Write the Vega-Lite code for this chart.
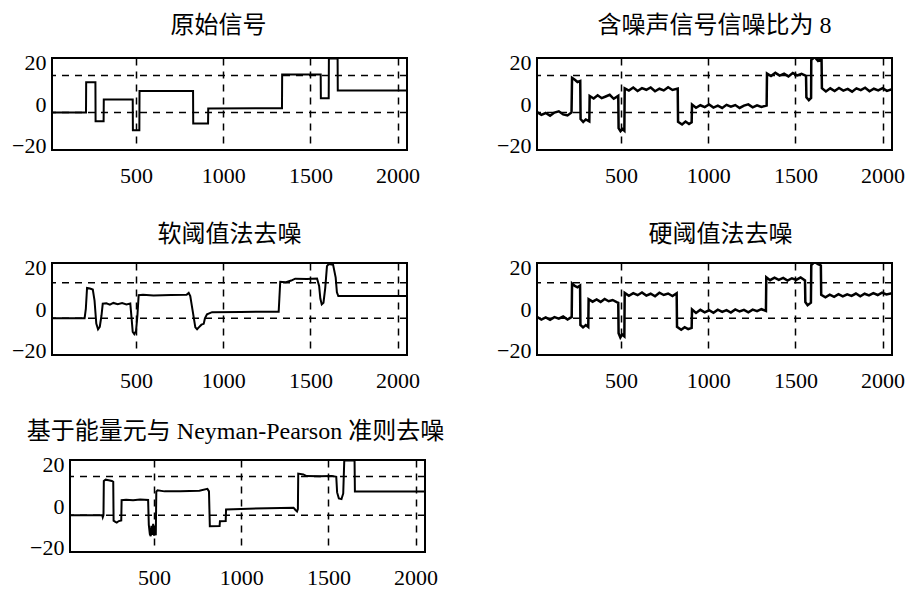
{
  "$schema": "https://vega.github.io/schema/vega-lite/v6.json",
  "background": "white",
  "padding": {"left": 5, "top": 13, "right": 5, "bottom": 0},
  "spacing": 23,
  "config": {
    "view": {"stroke": "black", "strokeWidth": 2},
    "axis": {"labelFont": "Liberation Serif", "labelFontSize": 22, "labelColor": "black", "ticks": false, "domain": false},
    "axisX": {"grid": true, "gridColor": "black", "gridDash": [7, 6], "gridWidth": 1.5, "gridOpacity": 1, "labelPadding": 15, "labelFlush": false},
    "axisY": {"grid": false, "labelPadding": 6},
    "title": {"font": "Liberation Serif, Noto Sans CJK SC", "fontSize": 24, "fontWeight": "normal", "color": "black", "anchor": "middle"}
  },
  "datasets": {
    "g1": [{"gy": 13.6}, {"gy": -4.1}],
    "g3": [{"gy": 12.5}, {"gy": -4.4}],
    "g5": [{"gy": 14.1}, {"gy": -4.4}],
    "blank": [{"v": 0}],
    "s1": [{"x":18,"y":-4.1},{"x":213,"y":-4.1},{"x":214,"y":10.4},{"x":267,"y":10.4},{"x":268,"y":-8.2},{"x":314,"y":-8.2},{"x":315,"y":2.1},{"x":481,"y":2.1},{"x":482,"y":-12.5},{"x":519,"y":-12.5},{"x":520,"y":6.2},{"x":827,"y":6.2},{"x":828,"y":-9.3},{"x":913,"y":-9.3},{"x":914,"y":-2.1},{"x":1337,"y":-2.0},{"x":1338,"y":14.1},{"x":1559,"y":14.1},{"x":1560,"y":2.8},{"x":1605,"y":2.8},{"x":1606,"y":21.8},{"x":1656,"y":21.8},{"x":1657,"y":6.5},{"x":2054,"y":6.5}],
    "s2": [{"x":18,"y":-3.8},{"x":43,"y":-5.2},{"x":68,"y":-4.3},{"x":93,"y":-5.6},{"x":118,"y":-4.1},{"x":143,"y":-3.5},{"x":168,"y":-5.0},{"x":193,"y":-5.5},{"x":216,"y":-4.0},
      {"x":219,"y":12.5},{"x":235,"y":11.6},{"x":250,"y":10.5},{"x":266,"y":11.0},
      {"x":268,"y":-7.2},{"x":283,"y":-8.6},{"x":298,"y":-7.4},{"x":318,"y":-8.3},
      {"x":320,"y":3.8},{"x":343,"y":2.6},{"x":366,"y":4.2},{"x":389,"y":2.8},{"x":412,"y":3.6},{"x":435,"y":4.4},{"x":458,"y":2.5},{"x":484,"y":3.9},
      {"x":486,"y":-11.5},{"x":497,"y":-13.0},{"x":508,"y":-12.0},{"x":519,"y":-12.8},
      {"x":521,"y":7.5},{"x":545,"y":6.4},{"x":570,"y":7.9},{"x":595,"y":6.2},{"x":620,"y":7.6},{"x":645,"y":6.8},{"x":670,"y":7.9},{"x":695,"y":6.1},{"x":720,"y":7.3},{"x":745,"y":6.5},{"x":770,"y":8.0},{"x":795,"y":6.7},{"x":825,"y":7.4},
      {"x":827,"y":-8.5},{"x":850,"y":-9.8},{"x":870,"y":-8.4},{"x":890,"y":-9.6},{"x":905,"y":-8.8},
      {"x":907,"y":-0.3},{"x":930,"y":-1.8},{"x":955,"y":-0.6},{"x":980,"y":-1.5},{"x":1005,"y":-0.2},{"x":1030,"y":-1.7},{"x":1055,"y":-0.8},{"x":1080,"y":-1.9},{"x":1105,"y":-0.4},{"x":1130,"y":-1.3},{"x":1155,"y":-0.5},{"x":1180,"y":-1.9},{"x":1205,"y":-0.8},{"x":1230,"y":-0.2},{"x":1255,"y":-1.6},{"x":1280,"y":-0.6},{"x":1305,"y":-1.4},{"x":1335,"y":-0.7},
      {"x":1337,"y":14.6},{"x":1360,"y":13.4},{"x":1385,"y":14.9},{"x":1410,"y":13.6},{"x":1435,"y":14.5},{"x":1460,"y":13.2},{"x":1485,"y":14.8},{"x":1510,"y":13.7},{"x":1535,"y":14.4},{"x":1561,"y":13.5},
      {"x":1563,"y":3.2},{"x":1577,"y":1.8},{"x":1590,"y":2.9},
      {"x":1591,"y":21.0},{"x":1610,"y":22.5},{"x":1630,"y":20.6},{"x":1650,"y":21.5},
      {"x":1652,"y":7.6},{"x":1675,"y":6.0},{"x":1700,"y":7.5},{"x":1725,"y":6.2},{"x":1750,"y":7.7},{"x":1775,"y":6.4},{"x":1800,"y":7.2},{"x":1825,"y":5.9},{"x":1850,"y":7.5},{"x":1875,"y":6.6},{"x":1900,"y":7.8},{"x":1925,"y":6.1},{"x":1950,"y":7.3},{"x":1975,"y":6.5},{"x":2000,"y":7.6},{"x":2025,"y":6.3},{"x":2054,"y":7.1}],
    "s3": [{"x":18,"y":-4.4},{"x":205,"y":-4.4},{"x":212,"y":0},{"x":219,"y":10.1},{"x":235,"y":9.8},{"x":252,"y":9.3},{"x":262,"y":4},{"x":272,"y":-7},{"x":282,"y":-9.7},{"x":292,"y":-8.5},{"x":302,"y":-3},{"x":309,"y":2.5},{"x":330,"y":2.7},{"x":350,"y":2.1},{"x":370,"y":2.9},{"x":395,"y":2.3},{"x":420,"y":2.8},{"x":445,"y":2.2},{"x":467,"y":2.6},{"x":474,"y":-4},{"x":481,"y":-11},{"x":490,"y":-12.0},{"x":500,"y":-10.5},{"x":508,"y":-3},{"x":515,"y":6.6},{"x":540,"y":6.8},{"x":600,"y":6.5},{"x":700,"y":6.7},{"x":790,"y":6.8},{"x":802,"y":7.7},{"x":811,"y":6.2},{"x":825,"y":-1},{"x":840,"y":-8.8},{"x":850,"y":-9.7},{"x":860,"y":-8.8},{"x":875,"y":-7.5},{"x":888,"y":-7.1},{"x":895,"y":-4.5},{"x":907,"y":-2.5},{"x":936,"y":-1.5},{"x":1100,"y":-1.4},{"x":1318,"y":-1.3},{"x":1322,"y":5},{"x":1327,"y":13.0},{"x":1360,"y":12.8},{"x":1390,"y":13.6},{"x":1413,"y":14.5},{"x":1480,"y":14.4},{"x":1538,"y":14.6},{"x":1550,"y":11},{"x":1557,"y":5},{"x":1565,"y":2.2},{"x":1575,"y":3.0},{"x":1585,"y":10},{"x":1595,"y":20.5},{"x":1605,"y":21.5},{"x":1630,"y":21.2},{"x":1645,"y":15},{"x":1652,"y":8},{"x":1660,"y":6.2},{"x":2054,"y":6.2}],
    "s4": [{"x":18,"y":-3.7},{"x":43,"y":-5.1},{"x":68,"y":-4.0},{"x":93,"y":-5.2},{"x":118,"y":-3.9},{"x":143,"y":-4.6},{"x":168,"y":-3.6},{"x":193,"y":-5.0},{"x":217,"y":-3.8},
      {"x":219,"y":12.2},{"x":235,"y":11.0},{"x":250,"y":10.4},{"x":265,"y":11.2},
      {"x":267,"y":-7.6},{"x":282,"y":-8.8},{"x":298,"y":-7.7},{"x":312,"y":-8.6},
      {"x":314,"y":4.7},{"x":337,"y":3.5},{"x":360,"y":4.6},{"x":383,"y":3.4},{"x":406,"y":4.8},{"x":429,"y":3.7},{"x":452,"y":4.3},{"x":475,"y":3.3},{"x":484,"y":3.0},
      {"x":486,"y":-11.6},{"x":496,"y":-13.6},{"x":506,"y":-12.2},{"x":519,"y":-13.1},
      {"x":521,"y":7.7},{"x":545,"y":6.3},{"x":570,"y":7.6},{"x":595,"y":6.6},{"x":620,"y":7.9},{"x":645,"y":6.4},{"x":670,"y":7.3},{"x":695,"y":6.1},{"x":720,"y":7.8},{"x":745,"y":6.7},{"x":770,"y":7.4},{"x":795,"y":6.2},{"x":819,"y":7.5},
      {"x":821,"y":-8.5},{"x":845,"y":-9.9},{"x":865,"y":-8.7},{"x":885,"y":-9.6},{"x":905,"y":-9.0},
      {"x":907,"y":-0.2},{"x":930,"y":-1.9},{"x":955,"y":-0.4},{"x":980,"y":-1.6},{"x":1005,"y":-0.6},{"x":1030,"y":-1.8},{"x":1055,"y":-0.3},{"x":1080,"y":-1.4},{"x":1105,"y":-0.5},{"x":1130,"y":-1.7},{"x":1155,"y":-0.2},{"x":1180,"y":-1.2},{"x":1205,"y":-0.4},{"x":1230,"y":-1.6},{"x":1255,"y":-0.3},{"x":1280,"y":-1.0},{"x":1305,"y":-0.1},{"x":1331,"y":-0.9},
      {"x":1333,"y":15.2},{"x":1355,"y":13.8},{"x":1380,"y":15.0},{"x":1405,"y":13.9},{"x":1430,"y":14.9},{"x":1455,"y":13.6},{"x":1480,"y":14.7},{"x":1505,"y":13.9},{"x":1530,"y":15.1},{"x":1555,"y":13.7},
      {"x":1557,"y":3.3},{"x":1570,"y":1.8},{"x":1589,"y":3.0},
      {"x":1591,"y":21.0},{"x":1610,"y":22.5},{"x":1630,"y":21.5},{"x":1646,"y":20.8},
      {"x":1648,"y":6.8},{"x":1672,"y":5.6},{"x":1697,"y":6.9},{"x":1722,"y":5.8},{"x":1747,"y":7.1},{"x":1772,"y":6.0},{"x":1797,"y":7.0},{"x":1822,"y":6.3},{"x":1847,"y":7.4},{"x":1872,"y":6.1},{"x":1897,"y":7.3},{"x":1922,"y":6.5},{"x":1947,"y":7.6},{"x":1972,"y":6.7},{"x":1997,"y":7.8},{"x":2022,"y":7.0},{"x":2054,"y":7.6}],
    "s5": [{"x":18,"y":-4.4},{"x":203,"y":-4.4},{"x":206,"y":-5.4},{"x":210,"y":-4.4},{"x":212,"y":12.0},{"x":222,"y":12.6},{"x":240,"y":12.3},{"x":258,"y":12.0},{"x":266,"y":11.6},{"x":268,"y":-7.0},{"x":278,"y":-7.6},{"x":286,"y":-7.9},{"x":298,"y":-7.2},{"x":312,"y":-6.9},{"x":314,"y":2.8},{"x":340,"y":3.0},{"x":380,"y":2.7},{"x":420,"y":3.1},{"x":466,"y":2.9},{"x":470,"y":-9.0},{"x":476,"y":-13.5},{"x":481,"y":-14.4},{"x":485,"y":-9.5},{"x":490,"y":-13.8},{"x":495,"y":-8.5},{"x":500,"y":-14.2},{"x":505,"y":-10.5},{"x":510,"y":-14.0},{"x":513,"y":6.9},{"x":520,"y":7.5},{"x":560,"y":7.0},{"x":650,"y":7.1},{"x":760,"y":7.3},{"x":806,"y":8.2},{"x":815,"y":7.0},{"x":820,"y":-9.7},{"x":876,"y":-9.6},{"x":878,"y":-7.3},{"x":911,"y":-7.2},{"x":913,"y":-1.7},{"x":1000,"y":-1.4},{"x":1150,"y":-1.1},{"x":1300,"y":-0.8},{"x":1310,"y":-1.8},{"x":1320,"y":-2.6},{"x":1325,"y":-1.5},{"x":1327,"y":15.5},{"x":1356,"y":15.1},{"x":1375,"y":14.3},{"x":1450,"y":14.2},{"x":1520,"y":14.4},{"x":1545,"y":14.0},{"x":1550,"y":6.5},{"x":1560,"y":3.6},{"x":1575,"y":3.3},{"x":1585,"y":6.0},{"x":1591,"y":21.8},{"x":1650,"y":21.8},{"x":1652,"y":6.9},{"x":2054,"y":6.9}]
  },
  "vconcat": [
    {
      "bounds": "flush",
      "spacing": 130,
      "hconcat": [
        {
          "width": 355, "height": 92,
          "title": {"text": "原始信号", "dx": -11, "offset": 13},
          "layer": [
            {"data": {"name": "g1"}, "mark": {"type": "rule", "color": "black", "strokeDash": [7, 6], "strokeWidth": 1.5},
             "encoding": {"y": {"field": "gy", "type": "quantitative", "scale": {"domain": [-22, 22], "nice": false, "zero": false}, "axis": {"values": [-20, 0, 20], "title": null, "minExtent": 46}}}},
            {"data": {"name": "s1"}, "mark": {"type": "line", "color": "black", "strokeWidth": 2, "clip": true},
             "encoding": {
               "x": {"field": "x", "type": "quantitative", "scale": {"domain": [18, 2054], "nice": false, "zero": false}, "axis": {"values": [500, 1000, 1500, 2000], "format": "d", "title": null, "minExtent": 48}},
               "y": {"field": "y", "type": "quantitative", "scale": {"domain": [-22, 22], "nice": false, "zero": false}, "axis": {"values": [-20, 0, 20], "title": null, "minExtent": 46}}}}
          ]
        },
        {
          "width": 355, "height": 92,
          "title": {"text": "含噪声信号信噪比为 8", "offset": 13},
          "layer": [
            {"data": {"name": "g1"}, "mark": {"type": "rule", "color": "black", "strokeDash": [7, 6], "strokeWidth": 1.5},
             "encoding": {"y": {"field": "gy", "type": "quantitative", "scale": {"domain": [-22, 22], "nice": false, "zero": false}, "axis": {"values": [-20, 0, 20], "title": null, "minExtent": 46}}}},
            {"data": {"name": "s2"}, "mark": {"type": "line", "color": "black", "strokeWidth": 2.5, "clip": true},
             "encoding": {
               "x": {"field": "x", "type": "quantitative", "scale": {"domain": [18, 2054], "nice": false, "zero": false}, "axis": {"values": [500, 1000, 1500, 2000], "format": "d", "title": null, "minExtent": 48}},
               "y": {"field": "y", "type": "quantitative", "scale": {"domain": [-22, 22], "nice": false, "zero": false}, "axis": {"values": [-20, 0, 20], "title": null, "minExtent": 46}}}}
          ]
        }
      ]
    },
    {
      "bounds": "flush",
      "spacing": 130,
      "hconcat": [
        {
          "width": 355, "height": 92,
          "title": {"text": "软阈值法去噪", "offset": 9},
          "layer": [
            {"data": {"name": "g3"}, "mark": {"type": "rule", "color": "black", "strokeDash": [7, 6], "strokeWidth": 1.5},
             "encoding": {"y": {"field": "gy", "type": "quantitative", "scale": {"domain": [-22, 22], "nice": false, "zero": false}, "axis": {"values": [-20, 0, 20], "title": null, "minExtent": 46}}}},
            {"data": {"name": "s3"}, "mark": {"type": "line", "color": "black", "strokeWidth": 2, "clip": true},
             "encoding": {
               "x": {"field": "x", "type": "quantitative", "scale": {"domain": [18, 2054], "nice": false, "zero": false}, "axis": {"values": [500, 1000, 1500, 2000], "format": "d", "title": null, "minExtent": 40}},
               "y": {"field": "y", "type": "quantitative", "scale": {"domain": [-22, 22], "nice": false, "zero": false}, "axis": {"values": [-20, 0, 20], "title": null, "minExtent": 46}}}}
          ]
        },
        {
          "width": 355, "height": 92,
          "title": {"text": "硬阈值法去噪", "dx": 6, "offset": 9},
          "layer": [
            {"data": {"name": "g3"}, "mark": {"type": "rule", "color": "black", "strokeDash": [7, 6], "strokeWidth": 1.5},
             "encoding": {"y": {"field": "gy", "type": "quantitative", "scale": {"domain": [-22, 22], "nice": false, "zero": false}, "axis": {"values": [-20, 0, 20], "title": null, "minExtent": 46}}}},
            {"data": {"name": "s4"}, "mark": {"type": "line", "color": "black", "strokeWidth": 2.5, "clip": true},
             "encoding": {
               "x": {"field": "x", "type": "quantitative", "scale": {"domain": [18, 2054], "nice": false, "zero": false}, "axis": {"values": [500, 1000, 1500, 2000], "format": "d", "title": null, "minExtent": 40}},
               "y": {"field": "y", "type": "quantitative", "scale": {"domain": [-22, 22], "nice": false, "zero": false}, "axis": {"values": [-20, 0, 20], "title": null, "minExtent": 46}}}}
          ]
        }
      ]
    },
    {
      "bounds": "flush",
      "spacing": 17,
      "hconcat": [
        {
          "width": 1, "height": 92,
          "view": {"stroke": null},
          "data": {"name": "blank"},
          "mark": {"type": "point", "opacity": 0},
          "encoding": {}
        },
        {
          "width": 355, "height": 92,
          "title": {"text": "基于能量元与 Neyman-Pearson 准则去噪", "dx": -12, "offset": 9},
          "layer": [
            {"data": {"name": "g5"}, "mark": {"type": "rule", "color": "black", "strokeDash": [7, 6], "strokeWidth": 1.5},
             "encoding": {"y": {"field": "gy", "type": "quantitative", "scale": {"domain": [-22, 22], "nice": false, "zero": false}, "axis": {"values": [-20, 0, 20], "title": null, "minExtent": 46}}}},
            {"data": {"name": "s5"}, "mark": {"type": "line", "color": "black", "strokeWidth": 2, "clip": true},
             "encoding": {
               "x": {"field": "x", "type": "quantitative", "scale": {"domain": [18, 2054], "nice": false, "zero": false}, "axis": {"values": [500, 1000, 1500, 2000], "format": "d", "title": null, "minExtent": 30}},
               "y": {"field": "y", "type": "quantitative", "scale": {"domain": [-22, 22], "nice": false, "zero": false}, "axis": {"values": [-20, 0, 20], "title": null, "minExtent": 46}}}}
          ]
        }
      ]
    }
  ]
}
